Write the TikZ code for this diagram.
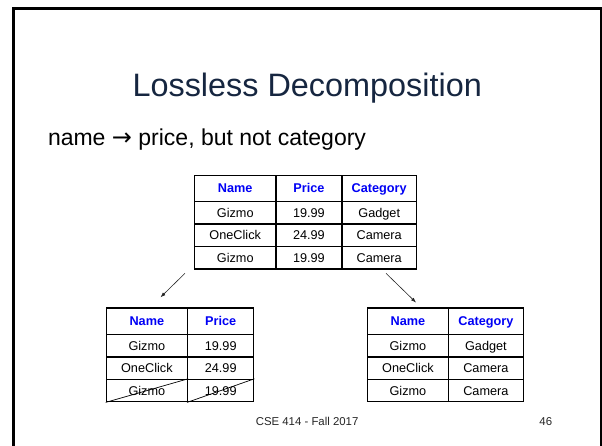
\documentclass[tikz,border=0pt]{standalone}
\usepackage{fontspec}
\setmainfont{Liberation Sans}
\newfontfamily\arrowfont{DejaVu Sans}
\usetikzlibrary{arrows.meta}
\definecolor{titlenavy}{RGB}{22,38,64}
\definecolor{headblue}{RGB}{0,0,245}
\newcommand{\cellfont}{\fontsize{12.7}{15}\selectfont}
\tikzset{
  tcell/.style={draw=black, line width=1.2pt, inner sep=0pt, anchor=north west,
    text height=9.1pt, text depth=0pt, font=\cellfont},
  hcell/.style={tcell, font=\cellfont\bfseries, text=headblue},
  wname/.style={minimum width=81.3pt},
  wprice/.style={minimum width=66.2pt},
  wcat/.style={minimum width=74.6pt},
  hh/.style={minimum height=26.6pt},
  rh/.style={minimum height=22.4pt},
  split/.style={-{Latex[length=5pt,width=3.6pt]}, line width=0.6pt, draw=black!85},
  strike/.style={line width=0.7pt, draw=black},
}
\begin{document}
\begin{tikzpicture}[x=1pt,y=-1pt]
\useasboundingbox (0,0) rectangle (602,445);
\fill[white] (0,0) rectangle (602,445);
% slide frame (open at the bottom)
\draw[line width=3pt, line join=miter] (13.5,446) -- (13.5,8.5) -- (601,8.5) -- (601,446);

% headings
\node[anchor=base, text=titlenavy, font=\fontsize{32.4}{38}\selectfont, inner sep=0pt]
  (title) at (307.2,96.7) {Lossless Decomposition};
\node[anchor=base west, font=\fontsize{23}{28}\selectfont, inner sep=0pt]
  (fd) at (47.8,145.2) {name {\arrowfont\fontsize{24}{28}\selectfont →} price, but not category};

% full relation
\node[hcell, wname, hh] (p-h1) at (194,174.5) {Name};
\node[hcell, wprice, hh] (p-h2) at (275.2,174.5) {Price};
\node[hcell, wcat, hh] (p-h3) at (341.3,174.5) {Category};
\node[tcell, wname, rh] (p-11) at (194,201) {Gizmo};
\node[tcell, wprice, rh] (p-12) at (275.2,201) {19.99};
\node[tcell, wcat, rh] (p-13) at (341.3,201) {Gadget};
\node[tcell, wname, rh] (p-21) at (194,223.5) {OneClick};
\node[tcell, wprice, rh] (p-22) at (275.2,223.5) {24.99};
\node[tcell, wcat, rh] (p-23) at (341.3,223.5) {Camera};
\node[tcell, wname, rh] (p-31) at (194,246) {Gizmo};
\node[tcell, wprice, rh] (p-32) at (275.2,246) {19.99};
\node[tcell, wcat, rh] (p-33) at (341.3,246) {Camera};

% projection on name, price
\node[hcell, wname, hh] (l-h1) at (105.6,307.3) {Name};
\node[hcell, wprice, hh] (l-h2) at (187,307.3) {Price};
\node[tcell, wname, rh] (l-11) at (105.6,334) {Gizmo};
\node[tcell, wprice, rh] (l-12) at (187,334) {19.99};
\node[tcell, wname, rh] (l-21) at (105.6,356.4) {OneClick};
\node[tcell, wprice, rh] (l-22) at (187,356.4) {24.99};
\node[tcell, wname, rh] (l-31) at (105.6,378.8) {Gizmo};
\node[tcell, wprice, rh] (l-32) at (187,378.8) {19.99};
\draw[strike] (l-31.south west) -- (l-31.north east);
\draw[strike] (l-32.south west) -- (l-32.north east);

% projection on name, category
\node[hcell, wname, hh] (r-h1) at (366.7,307.3) {Name};
\node[hcell, wcat, hh] (r-h2) at (448,307.3) {Category};
\node[tcell, wname, rh] (r-11) at (366.7,334) {Gizmo};
\node[tcell, wcat, rh] (r-12) at (448,334) {Gadget};
\node[tcell, wname, rh] (r-21) at (366.7,356.4) {OneClick};
\node[tcell, wcat, rh] (r-22) at (448,356.4) {Camera};
\node[tcell, wname, rh] (r-31) at (366.7,378.8) {Gizmo};
\node[tcell, wcat, rh] (r-32) at (448,378.8) {Camera};

% decomposition arrows
\coordinate (la-s) at (185,273.3);
\coordinate (la-e) at (160.5,297.3);
\coordinate (ra-s) at (386,273.3);
\coordinate (ra-e) at (416,302.5);
\draw[split] (la-s) -- (la-e);
\draw[split] (ra-s) -- (ra-e);

% footer
\node[anchor=base, font=\fontsize{11.4}{14}\selectfont, inner sep=0pt, text=black!85]
  (foot) at (307.1,425.5) {CSE 414 - Fall 2017};
\node[anchor=base east, font=\fontsize{11.4}{14}\selectfont, inner sep=0pt, text=black!85]
  (page) at (552.3,425.5) {46};
\end{tikzpicture}
\end{document}
